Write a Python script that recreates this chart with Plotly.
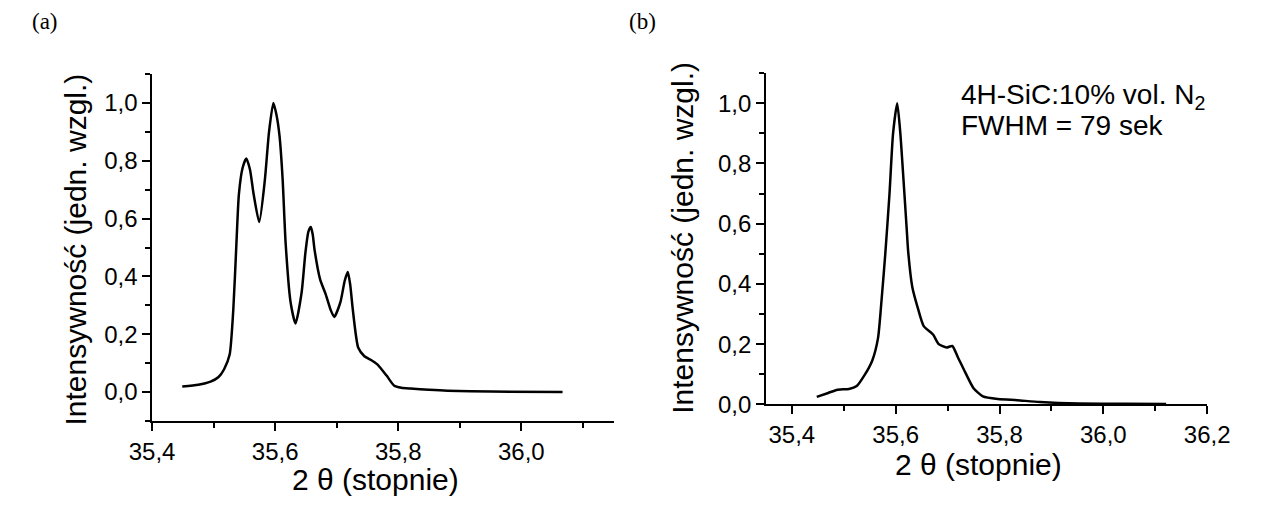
import plotly.graph_objects as go

# Panel (a): 2-theta scan with several overlapping reflections
theta_a = [35.449, 35.475, 35.495, 35.508, 35.517, 35.526, 35.532, 35.537, 35.541, 35.547,
           35.553, 35.559, 35.565, 35.574, 35.583, 35.590, 35.597, 35.602, 35.607,
           35.612, 35.617, 35.625, 35.633, 35.643, 35.649, 35.654, 35.658, 35.661,
           35.664, 35.673, 35.682, 35.690, 35.696, 35.706, 35.713, 35.718, 35.722,
           35.726, 35.735, 35.745, 35.755, 35.766, 35.781, 35.793, 35.805, 35.820,
           35.850, 35.880, 35.950, 36.067]
int_a = [0.019, 0.025, 0.036, 0.052, 0.079, 0.130, 0.288, 0.514, 0.684, 0.775,
         0.808, 0.770, 0.684, 0.588, 0.729, 0.900, 1.000, 0.960, 0.887,
         0.740, 0.514, 0.311, 0.237, 0.345, 0.480, 0.555, 0.571, 0.545,
         0.492, 0.390, 0.339, 0.285, 0.260, 0.311, 0.385, 0.415, 0.370,
         0.288, 0.153, 0.124, 0.112, 0.096, 0.057, 0.023, 0.015, 0.012,
         0.008, 0.005, 0.002, 0.000]

# Panel (b): 4H-SiC grown with 10% vol. N2
theta_b = [35.448, 35.470, 35.488, 35.510, 35.525, 35.540, 35.555, 35.566, 35.573,
           35.580, 35.588, 35.595, 35.603, 35.609, 35.613, 35.621, 35.624, 35.632,
           35.643, 35.654, 35.672, 35.683, 35.698, 35.709, 35.720, 35.735, 35.750,
           35.768, 35.797, 35.834, 35.878, 35.952, 36.040, 36.121]
int_b = [0.025, 0.038, 0.049, 0.051, 0.061, 0.097, 0.146, 0.220, 0.350,
         0.500, 0.696, 0.900, 1.000, 0.900, 0.800, 0.590, 0.510, 0.390,
         0.318, 0.260, 0.232, 0.200, 0.189, 0.194, 0.156, 0.103, 0.054,
         0.027, 0.018, 0.014, 0.008, 0.003, 0.002, 0.001]

x_ticks_a = [35.4, 35.6, 35.8, 36.0]
x_ticks_b = [35.4, 35.6, 35.8, 36.0, 36.2]
y_ticks = [0.0, 0.2, 0.4, 0.6, 0.8, 1.0]

W, H = 1261, 510
FONT = "Liberation Sans, Arial, sans-serif"
SERIF = "Liberation Serif, Times New Roman, serif"


def px_x(p):
    return p / W


def px_y(p):
    return 1 - p / H


fig = go.Figure()
fig.add_trace(go.Scatter(x=theta_a, y=int_a, mode="lines", xaxis="x", yaxis="y",
                         line=dict(color="black", width=2.5, shape="spline", smoothing=0.6),
                         showlegend=False))
fig.add_trace(go.Scatter(x=theta_b, y=int_b, mode="lines", xaxis="x2", yaxis="y2",
                         line=dict(color="black", width=2.5, shape="spline", smoothing=0.6),
                         showlegend=False))

axis_common = dict(showgrid=False, zeroline=False, showline=True, linecolor="black",
                   linewidth=1.5, ticks="outside", ticklen=8, tickwidth=1.5,
                   tickcolor="black", tickformat=".1f",
                   tickfont=dict(family=FONT, size=24, color="black"), mirror=False)


def minor(d, t0):
    return dict(ticks="outside", ticklen=5, tickwidth=1.5, tickcolor="black",
                dtick=d, tick0=t0, showgrid=False)


fig.update_layout(
    width=W, height=H,
    margin=dict(l=0, r=0, t=0, b=0),
    paper_bgcolor="white", plot_bgcolor="white",
    separators=", ",
    xaxis=dict(axis_common, domain=[px_x(134), px_x(613)], range=[35.4, 36.15],
               tickmode="array", tickvals=x_ticks_a, anchor="y",
               minor=minor(0.1, 35.4)),
    yaxis=dict(axis_common, domain=[px_y(432), px_y(76)], range=[-0.1, 1.1],
               tickmode="array", tickvals=y_ticks, anchor="x",
               minor=minor(0.1, 0.0)),
    xaxis2=dict(axis_common, domain=[px_x(771), px_x(1229)], range=[35.35, 36.2],
                tickmode="array", tickvals=x_ticks_b, anchor="y2",
                minor=minor(0.1, 35.4)),
    yaxis2=dict(axis_common, domain=[px_y(415), px_y(75)], range=[0.0, 1.1],
                tickmode="array", tickvals=y_ticks, anchor="x2",
                minor=minor(0.1, 0.0)),
)

ann = []
ytitle = "Intensywność (jedn. wzgl.)"
xtitle = "2 θ (stopnie)"
ann.append(dict(x=px_x(54), y=px_y(256), text=ytitle, textangle=-90))
ann.append(dict(x=px_x(685), y=px_y(244), text=ytitle, textangle=-90))
ann.append(dict(x=px_x(366), y=px_y(492), text=xtitle))
ann.append(dict(x=px_x(992), y=px_y(477), text=xtitle))
annotations = []
for a in ann:
    annotations.append(dict(a, xref="paper", yref="paper", showarrow=False,
                            xanchor="center", yanchor="middle",
                            font=dict(family=FONT, size=30, color="black")))

# Sample description inside panel (b)
for txt, yc in [("4H-SiC:10% vol. N<sub>2</sub>", 99), ("FWHM = 79 sek", 129)]:
    annotations.append(dict(x=px_x(971), y=px_y(yc), xref="paper", yref="paper",
                            text=txt, showarrow=False, xanchor="left", yanchor="middle",
                            font=dict(family=FONT, size=28, color="black")))

# Panel letters
for txt, xl in [("(a)", 7), ("(b)", 627)]:
    annotations.append(dict(x=px_x(xl), y=px_y(22), xref="paper", yref="paper",
                            text=txt, showarrow=False, xanchor="left", yanchor="middle",
                            font=dict(family=SERIF, size=23, color="black")))

fig.update_layout(annotations=annotations)
fig.write_html("out.html")
